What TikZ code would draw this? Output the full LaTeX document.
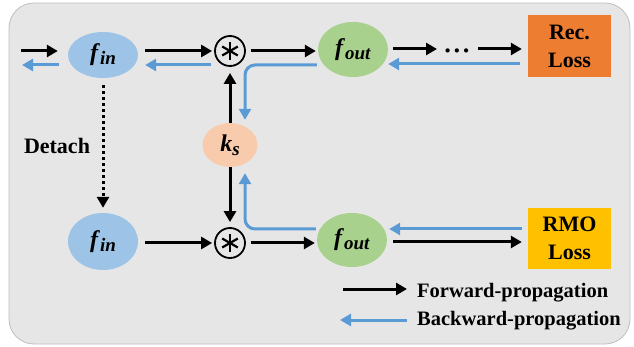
\documentclass[tikz,border=0pt]{standalone}
\usepackage{fontspec}
\setmainfont{Liberation Serif}
\usetikzlibrary{calc,arrows.meta,shapes.geometric}
\definecolor{bgc}{HTML}{E7E6E6}
\definecolor{bdc}{HTML}{BFBFBF}
\definecolor{finc}{HTML}{9DC3E6}
\definecolor{foutc}{HTML}{A9D18E}
\definecolor{ksc}{HTML}{F8CBAD}
\definecolor{recc}{HTML}{ED7D31}
\definecolor{rmoc}{HTML}{FFC000}
\definecolor{bluec}{HTML}{5B9BD5}
\newcommand{\fsym}[2]{{\fontsize{24}{24}\selectfont\textbf{\textit{#1}}}\raisebox{-4pt}{\fontsize{19}{19}\selectfont\textbf{\textit{#2}}}}
\begin{document}
\begin{tikzpicture}[x=1pt,y=-1pt,
  ell/.style={ellipse, inner sep=0pt},
  fw/.style={draw=black, line width=3pt, -{Triangle[length=11pt,width=12pt]}},
  bw/.style={draw=bluec, line width=3pt, -{Triangle[length=11pt,width=12pt]}},
  dotl/.style={draw=black, line width=3pt, dash pattern=on 3pt off 3pt, -{Triangle[length=11pt,width=12pt]}},
  star/.style={circle, draw=black, line width=1.8pt, minimum size=30pt, inner sep=0pt},
  astl/.style={draw=black, line width=2.2pt},
  lossbox/.style={rectangle, minimum width=83pt, inner sep=0pt, align=center, font=\fontsize{22}{28}\selectfont\bfseries},
  lbl/.style={font=\fontsize{20.5}{24}\selectfont\bfseries, inner sep=0pt}
]
\useasboundingbox (0,0) rectangle (634,347);
\draw[fill=bgc, draw=bdc, line width=0.8pt, rounded corners=25pt] (9,3) rectangle (630,344);

% nodes
\node[ell, fill=finc, minimum width=70pt, minimum height=46pt] (fin1) at (103,55) {\fsym{f}{in}};
\node[ell, fill=finc, minimum width=70pt, minimum height=57pt] (fin2) at (103,241.5) {\fsym{f}{in}};
\node[star] (st1) at (230,51) {};
\node[star] (st2) at (230,243) {};
\node[ell, fill=foutc, minimum width=70pt, minimum height=55pt] (fout1) at (353,49.5) {\fsym{f}{out}};
\node[ell, fill=foutc, minimum width=70pt, minimum height=54pt] (fout2) at (352,240) {\fsym{f}{out}};
\node[ell, fill=ksc, minimum width=55pt, minimum height=44pt] (ks) at (230,145) {\fsym{k}{s}};
\node[lossbox, fill=recc, minimum height=62pt] (rec) at (569.5,46) {Rec.\\Loss};
\node[lossbox, fill=rmoc, minimum height=61pt] (rmo) at (569.5,238.5) {RMO\\Loss};
\node[inner sep=0pt, minimum width=30pt, font=\fontsize{26}{26}\selectfont\bfseries] (dots) at (457,54) {·\kern0.5pt·\kern0.5pt·};
\node[font=\fontsize{22}{24}\selectfont\bfseries, inner sep=0pt] (detach) at (57,146) {Detach};

\foreach \s in {st1,st2}
  \foreach \a in {90,30,150}
    \draw[astl] ($(\s)+(\a:9)$) -- ($(\s)+(\a+180:9)$);

% input arrows
\coordinate (inA) at (21,51);
\coordinate (inB) at (22,65);
\draw[fw] (inA) -- ($(fin1.west|-st1)+(-10,0)$);
\draw[bw] ($(fin1.west|-st1)+(-9,14)$) -- (inB);

% top row
\draw[fw] ($(fin1.east|-st1)+(7,0)$) -- ($(st1.west)+(-2,0)$);
\draw[bw] ($(st1.west)+(-3,14)$) -- ($(fin1.east|-st1)+(7,14)$);
\draw[fw] ($(st1.east)+(5,0)$) -- ($(fout1.west|-st1)+(-2,0)$);
\draw[fw] ($(fout1.east|-0,49)+(5,0)$) -- (437,49);
\draw[fw] (478,49) -- ($(rec.west|-0,49)+(-6,0)$);
\draw[bw] ($(rec.west|-0,64)+(-8,0)$) -- ($(fout1.east|-0,64)$);
\draw[bw, rounded corners=10pt] ($(fout1.west|-0,65)+(-1,0)$) -- (245,65) -- ($(ks.north)+(15,-3)$);

% ks arrows
\draw[fw] (ks.north) -- ($(st1.south)+(0,6)$);
\draw[fw] (ks.south) -- ($(st2.north)+(0,-5)$);
\draw[bw, rounded corners=10pt] ($(fout2.west|-0,229)+(-1,0)$) -- (245,229) -- ($(ks.south)+(15,6)$);

% bottom row
\draw[fw] ($(fin2.east|-st2)+(7,0)$) -- ($(st2.west)+(-2,0)$);
\draw[fw] ($(st2.east)+(5,0)$) -- ($(fout2.west|-st2)+(-2,0)$);
\draw[fw] ($(fout2.east|-0,242)+(6,0)$) -- ($(rmo.west|-0,242)+(-6,0)$);
\draw[bw] ($(rmo.west|-0,229)+(-6,0)$) -- ($(fout2.east|-0,229)+(2,0)$);

% detach
\draw[dotl] ($(fin1.south)+(0,7)$) -- ($(fin2.north)+(0,-5)$);

% legend
\coordinate (lgA) at (343,289);
\coordinate (lgB) at (407,289);
\coordinate (lgC) at (407,320);
\coordinate (lgD) at (340,320);
\draw[fw] (lgA) -- (lgB);
\draw[bw] (lgC) -- (lgD);
\node[lbl, anchor=base west] (fwt) at (417,297) {Forward-propagation};
\node[lbl, anchor=base west] (bwt) at (417,325) {Backward-propagation};
\end{tikzpicture}
\end{document}
